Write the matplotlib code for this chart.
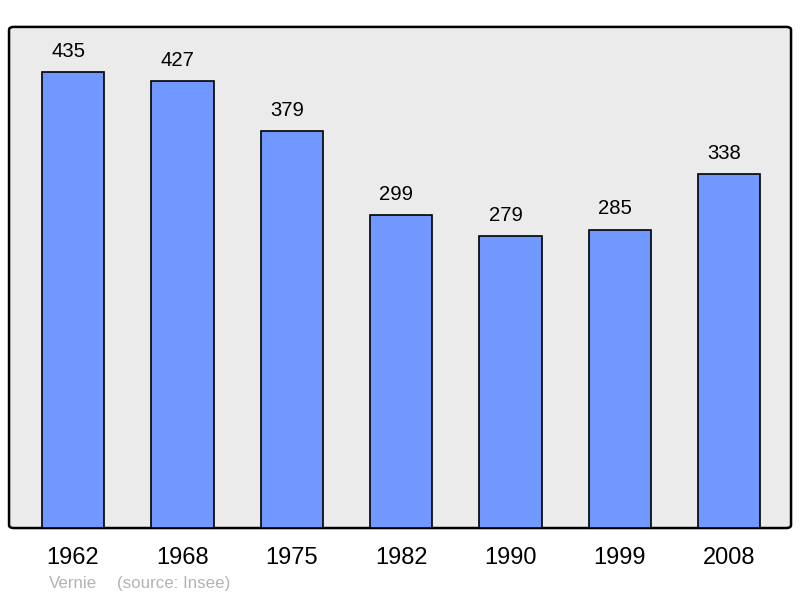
import matplotlib
matplotlib.use("Agg")
import matplotlib.pyplot as plt
from matplotlib.patches import FancyBboxPatch

# ── data ──────────────────────────────────────────────────────────────────────
years = ["1962", "1968", "1975", "1982", "1990", "1999", "2008"]
population = [435, 427, 379, 299, 279, 285, 338]

BAR_COLOR = "#7198ff"
BG_COLOR = "#ebebeb"

plt.rcParams["font.family"] = ["Liberation Sans", "DejaVu Sans"]

fig = plt.figure(figsize=(8, 5.98), dpi=100)
ax = fig.add_axes([0.0113, 0.117, 0.9775, 0.838])

x = range(len(years))
ax.bar(x, population, width=0.57, color=BAR_COLOR, edgecolor="black",
       linewidth=1.2, zorder=3)

# value labels sit slightly left of the bar centre, as in the original
for xi, val in zip(x, population):
    ax.annotate(str(val), (xi, val), xytext=(-3.5, 8), textcoords="offset points",
                ha="center", va="bottom", fontsize=14.6, color="black")

ax.set_xlim(-0.585, 6.565)
ax.set_ylim(0, max(population) * 1.1)

# frame: grey background with a rounded black border
ax.set_facecolor("none")
for s in ax.spines.values():
    s.set_visible(False)
frame = FancyBboxPatch((0, 0), 1, 1, boxstyle="round,pad=0,rounding_size=0.006",
                       transform=ax.transAxes, facecolor=BG_COLOR,
                       edgecolor="black", linewidth=1.8, zorder=0,
                       clip_on=False)
ax.add_patch(frame)

ax.set_yticks([])
ax.set_xticks(list(x))
ax.set_xticklabels(years, fontsize=17)
ax.tick_params(axis="x", length=0, pad=13.5)

fig.text(0.061, 0.016, "Vernie", fontsize=12.2, color="#b3b3b3")
fig.text(0.146, 0.016, "(source: Insee)", fontsize=12.2, color="#b3b3b3")

fig.savefig("out.png", dpi=100)
